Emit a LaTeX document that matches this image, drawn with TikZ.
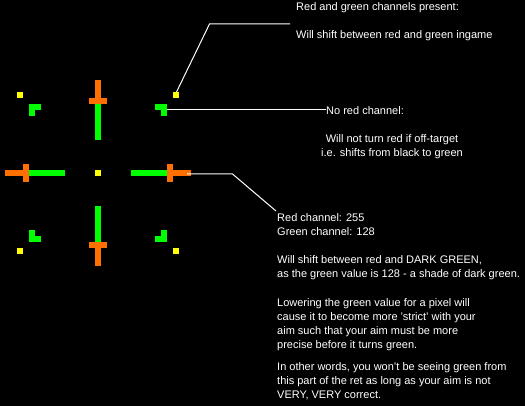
\documentclass[tikz,border=0pt]{standalone}
\usepackage{fontspec}
\setmainfont{Liberation Sans}
\definecolor{pixgreen}{RGB}{0,255,0}
\definecolor{pixorange}{RGB}{255,112,0}
\definecolor{pixyellow}{RGB}{255,255,0}

\begin{document}
\begin{tikzpicture}[x=1pt,y=-1pt,
    grn/.style={fill=pixgreen},
    org/.style={fill=pixorange},
    yel/.style={fill=pixyellow},
    callout/.style={draw=white,line width=1pt},
    txt/.style={text=white,inner sep=0pt,font=\fontsize{11}{13.8}\selectfont}]
  % black backdrop
  \fill[black] (0,0) rectangle (525,406);
  \useasboundingbox (0,0) rectangle (525,406);
  % the ret: four arms round the centre (98,173)
  \foreach \a in {0,90,180,270}{
    \begin{scope}[shift={(98,173)},rotate=\a]
      \fill[org] (-3,-93) rectangle (3,-75);
      \fill[org] (-9,-75) rectangle (9,-69);
      \fill[grn] (-3,-69) rectangle (3,-33);
      \fill[grn] (-69,-69) rectangle (-57,-63);
      \fill[grn] (-69,-63) rectangle (-63,-57);
      \fill[yel] (-81,-81) rectangle (-75,-75);
    \end{scope}
  }
  \fill[yel] (95,170) rectangle (101,176);
  % where the callouts start
  \coordinate (yelNE) at (176.5,92);
  \coordinate (cornerNE) at (167,109.5);
  \coordinate (armE) at (187,174);
  \coordinate (kneeA) at (209.5,24);
  \coordinate (endA) at (290,24);
  \coordinate (kneeC) at (232.5,174);
  \coordinate (endC) at (276,211);
  % texts
  \node[txt,anchor=base west] (both) at (296,11) {Red and green channels present:};
  \node[txt,anchor=base west] (bothinfo) at (296,38.3) {Will shift between red and green ingame};
  \node[txt,anchor=base west] (nored) at (326,114.5) {No red channel:};
  \node[txt,anchor=base] (noredinfo) at (392,142.5) {Will not turn red if off-target};
  \node[txt,anchor=base] (noredinfob) at (392,156.5) {i.e. shifts from black to green};
  \foreach \yy/\line [count=\n] in {
      222/{Red channel: 255},
      235.8/{Green channel: 128},
      263.4/{Will shift between red and DARK GREEN,},
      277.2/{as the green value is 128 - a shade of dark green.},
      306.7/{Lowering the green value for a pixel will},
      320.5/{cause it to become more 'strict' with your},
      334.3/{aim such that your aim must be more},
      348.1/{precise before it turns green.},
      370.7/{In other words, you won't be seeing green from},
      384.5/{this part of the ret as long as your aim is not},
      398.3/{VERY, VERY correct.}}
    \node[txt,anchor=base west] (line\n) at (277,\yy) {\line};
  % callout lines
  \draw[callout] (yelNE) -- (kneeA) -- (endA);
  \draw[callout] (cornerNE) -- (cornerNE -| nored.west);
  \draw[callout] (armE) -- (kneeC) -- (endC);
\end{tikzpicture}
\end{document}
